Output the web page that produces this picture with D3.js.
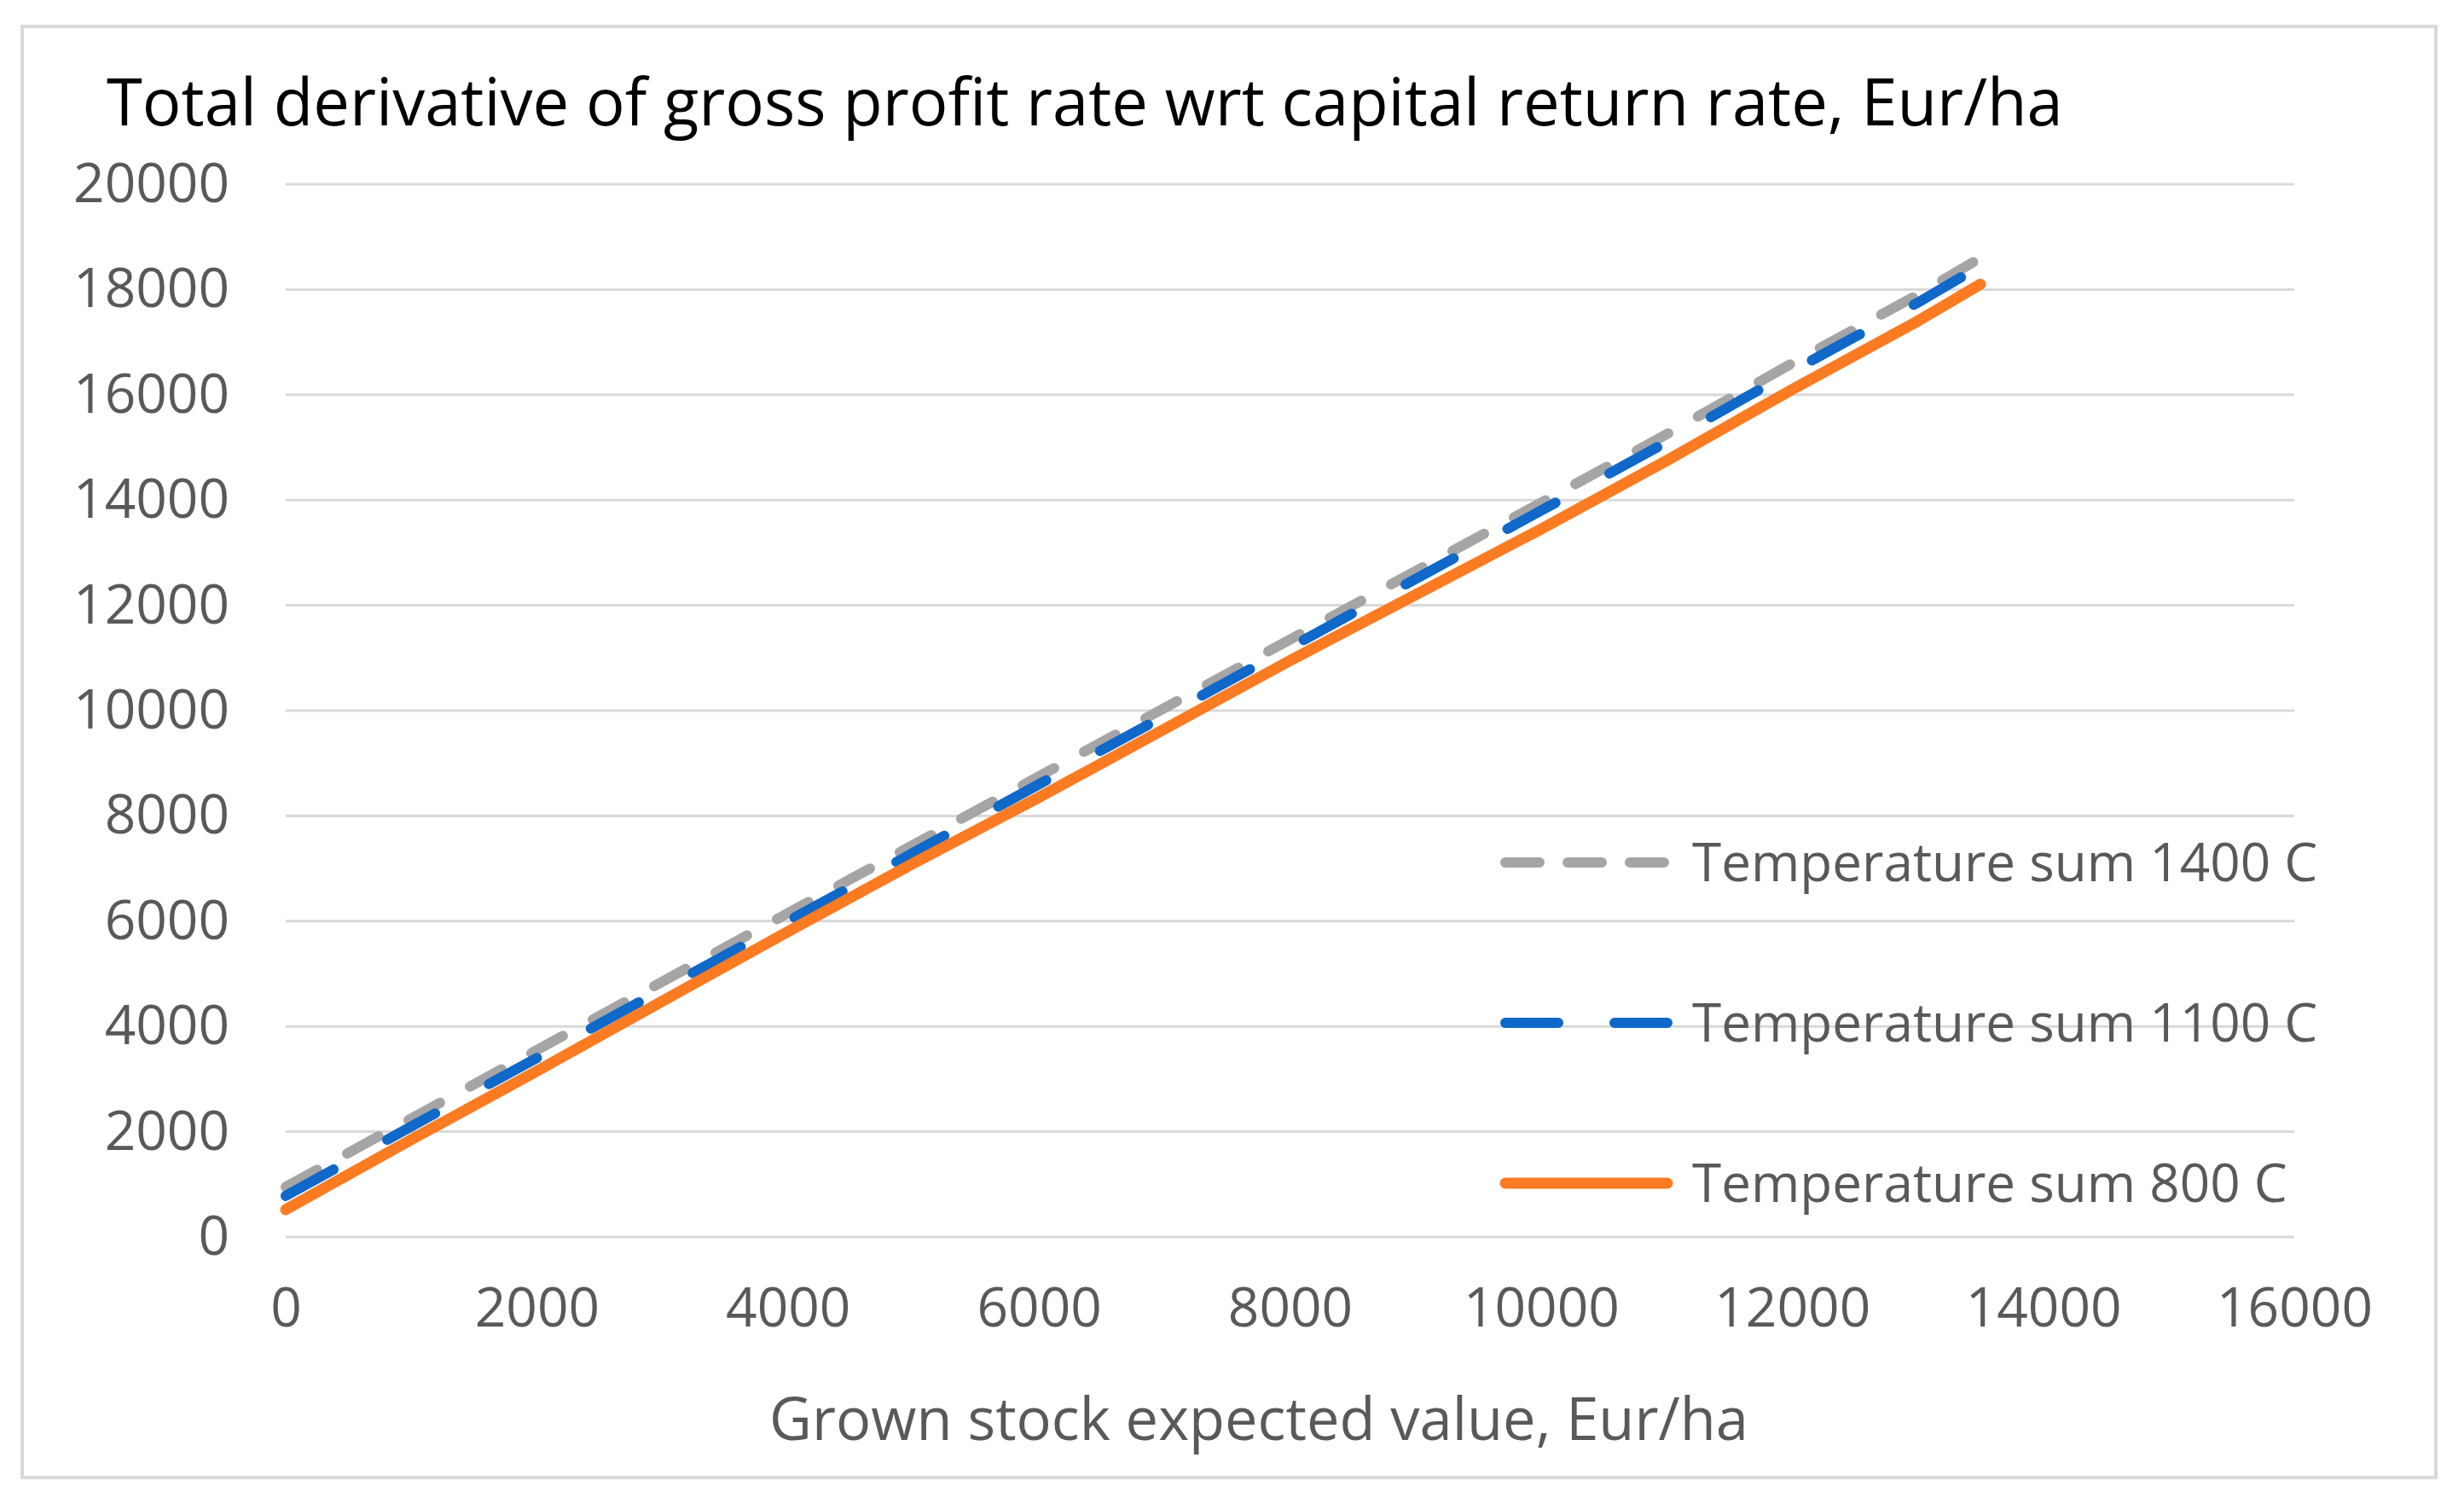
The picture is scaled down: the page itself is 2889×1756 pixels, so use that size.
<!DOCTYPE html>
<html>
<head>
<meta charset="utf-8">
<script src="https://cdn.jsdelivr.net/npm/d3@7"></script>
<style>
  body { margin: 0; background: #fff; }
  text { font-family: "Open Sans", sans-serif; }
</style>
</head>
<body>
<script>
// values
const xValues = [0, 1000, 2000, 3000, 4000, 5000, 6000, 7000, 8000, 9000, 10000, 11000, 12000, 13000, 13500];
const sum1400 = [950, 2250, 3550, 4850, 6150, 7450, 8750, 10050, 11350, 12650, 13950, 15250, 16600, 17900, 18600];
const sum1100 = [780, 2100, 3400, 4700, 6000, 7300, 8600, 9900, 11200, 12500, 13800, 15100, 16450, 17750, 18450];
const sum800  = [520, 1850, 3150, 4480, 5800, 7100, 8350, 9650, 10950, 12200, 13450, 14750, 16100, 17400, 18100];
const xTicks = [0, 2000, 4000, 6000, 8000, 10000, 12000, 14000, 16000];
const yTicks = [0, 2000, 4000, 6000, 8000, 10000, 12000, 14000, 16000, 18000, 20000];
const seriesNames = ["Temperature sum 1400 C", "Temperature sum 1100 C", "Temperature sum 800 C"];

const W = 2889, H = 1756;
const svg = d3.select("body").append("svg")
  .attr("width", W)
  .attr("height", H);

// chart frame
svg.append("rect")
  .attr("x", 26).attr("y", 31)
  .attr("width", 2830).attr("height", 1701)
  .attr("fill", "#fff")
  .attr("stroke", "#d9d9d9")
  .attr("stroke-width", 4);

let x = d3.scaleLinear().domain([0, 16000]).range([335, 2690]);
let y = d3.scaleLinear().domain([0, 20000]).range([1450, 216]);

// gridlines
svg.append("g")
  .selectAll("line")
  .data(yTicks)
  .enter()
  .append("line")
  .attr("x1", x(0)).attr("x2", x(16000))
  .attr("y1", d => y(d)).attr("y2", d => y(d))
  .attr("stroke", "#d9d9d9")
  .attr("stroke-width", 3);

// axes (labels only)
let yAxis = d3.axisLeft(y).tickValues(yTicks).tickSize(0).tickPadding(66).tickFormat(d3.format("d"));
let xAxis = d3.axisBottom(x).tickValues(xTicks).tickSize(0).tickPadding(60).tickFormat(d3.format("d"));

let yG = svg.append("g").attr("transform", "translate(" + x(0) + ",0)").call(yAxis);
let xG = svg.append("g").attr("transform", "translate(0," + y(0) + ")").call(xAxis);
[yG, xG].forEach(g => {
  g.select(".domain").remove();
  g.selectAll("text")
    .attr("fill", "#595959")
    .style("font-size", "64px");
});
xG.selectAll("text").attr("dy", "0.71em");

// series
const series = [
  { name: seriesNames[0], values: sum1400, color: "#a5a5a5", dash: "42 40" },
  { name: seriesNames[1], values: sum1100, color: "#1068c8", dash: "64 72" },
  { name: seriesNames[2], values: sum800,  color: "#fb7b22", dash: null }
];

let line = d3.line()
  .x((d, i) => x(xValues[i]))
  .y(d => y(d));

series.forEach(s => {
  svg.append("path")
    .datum(s.values)
    .attr("d", line)
    .attr("fill", "none")
    .attr("stroke", s.color)
    .attr("stroke-width", s.dash ? 12 : 13)
    .attr("stroke-linecap", "round")
    .attr("stroke-linejoin", "round")
    .attr("stroke-dasharray", s.dash);
});

// legend
const legendY = [1011, 1199, 1387];
series.forEach((s, i) => {
  svg.append("line")
    .attr("x1", 1765).attr("x2", 1955)
    .attr("y1", legendY[i]).attr("y2", legendY[i])
    .attr("stroke", s.color)
    .attr("stroke-width", s.dash ? 12 : 13)
    .attr("stroke-linecap", "round")
    .attr("stroke-dasharray", s.dash ? (i === 0 ? "40 33" : "62 66") : null);
  svg.append("text")
    .attr("x", 1984)
    .attr("y", legendY[i])
    .attr("dy", "0.35em")
    .attr("fill", "#595959")
    .style("font-size", "62px")
    .text(s.name);
});

// title
let title = svg.append("text")
  .attr("x", 125)
  .attr("y", 147)
  .attr("fill", "#000")
  .style("font-size", "76px")
  .text("Total derivative of gross profit rate wrt capital return rate, Eur/ha");
let tw = title.node().getComputedTextLength();
title.style("font-size", (76 * 2294 / tw) + "px");

// x axis title
let xTitle = svg.append("text")
  .attr("x", 1476)
  .attr("y", 1664)
  .attr("dy", "0.35em")
  .attr("text-anchor", "middle")
  .attr("fill", "#595959")
  .style("font-size", "64px")
  .text("Grown stock expected value, Eur/ha");
let xw = xTitle.node().getComputedTextLength();
xTitle.style("font-size", (64 * 1148 / xw) + "px");
</script>
</body>
</html>
